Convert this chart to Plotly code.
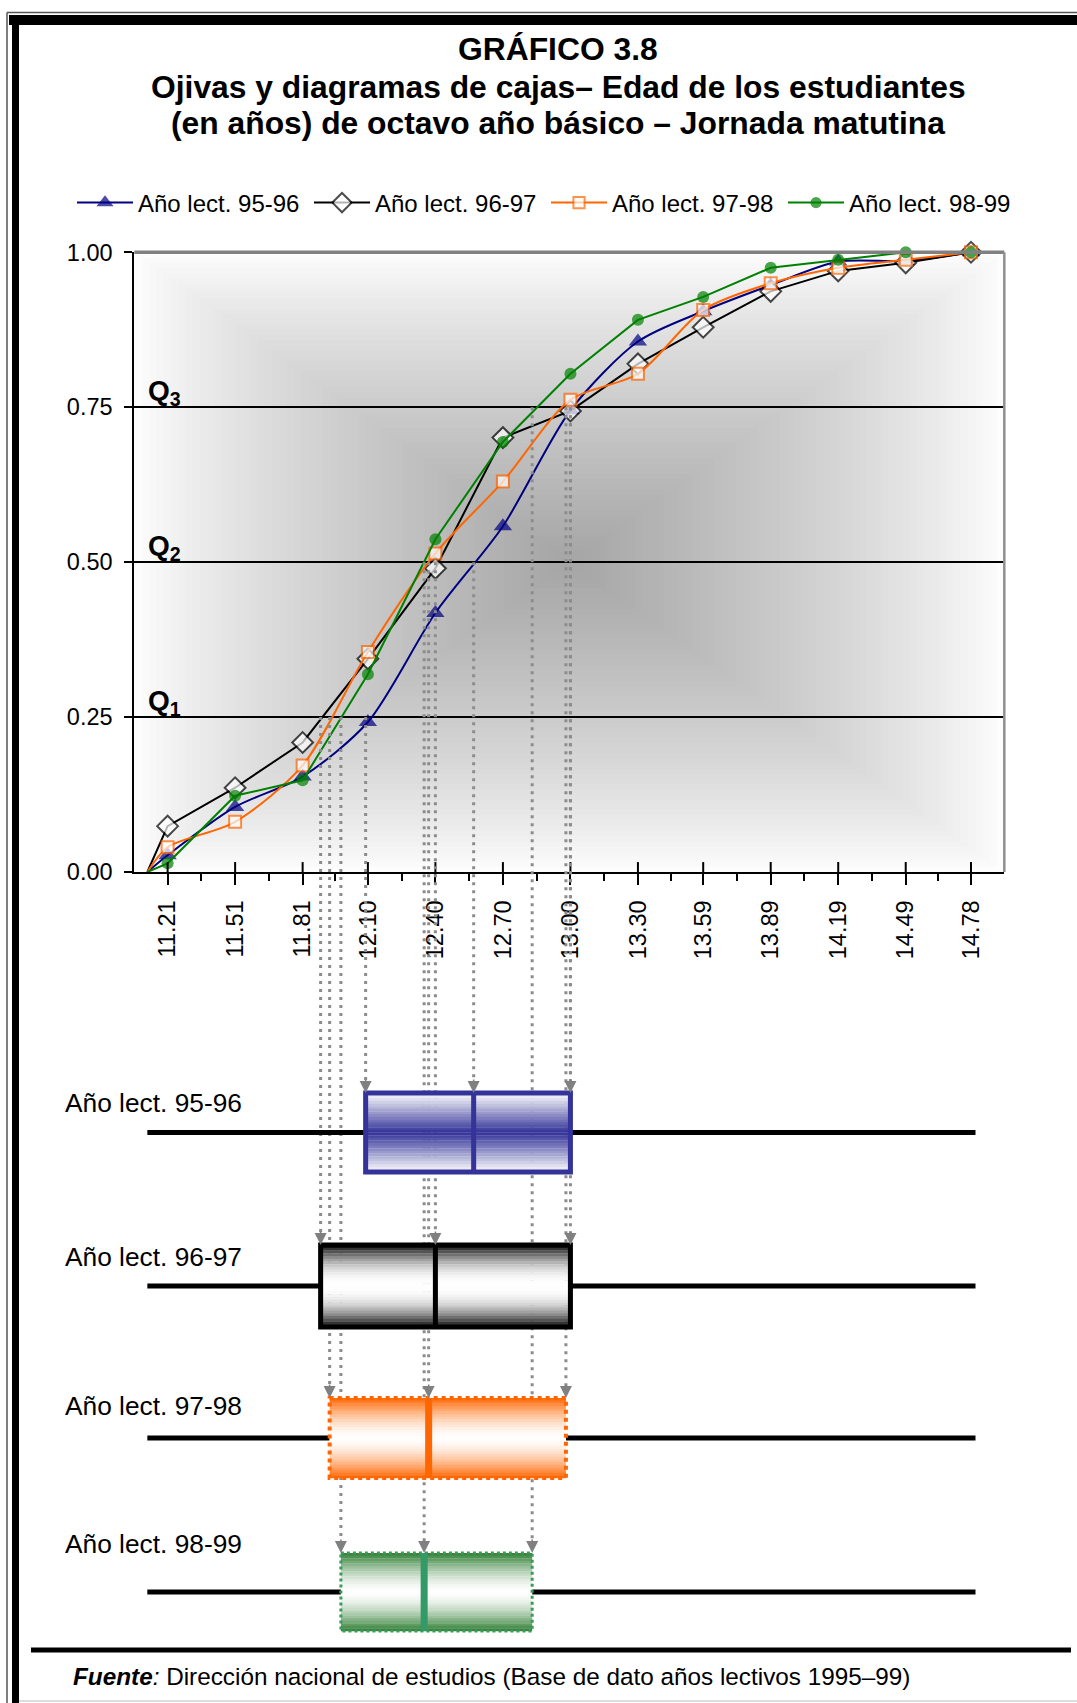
import plotly.graph_objects as go

W, H = 1077, 1703

# ---------------- data ----------------
X_TICKS = [11.21, 11.51, 11.81, 12.10, 12.40, 12.70, 13.00, 13.30, 13.59, 13.89, 14.19, 14.49, 14.78]
AGE_MIN = 11.12
AGE_MAX = 14.80

SERIES_NAMES = ["Año lect. 95-96", "Año lect. 96-97", "Año lect. 97-98", "Año lect. 98-99"]
CUM_9596 = [0.0, 0.027, 0.105, 0.154, 0.242, 0.418, 0.558, 0.745, 0.856, 0.905, 0.947, 0.985, 0.986, 1.0]
CUM_9697 = [0.0, 0.074, 0.136, 0.209, 0.344, 0.490, 0.701, 0.744, 0.820, 0.879, 0.937, 0.970, 0.983, 1.0]
CUM_9798 = [0.0, 0.040, 0.081, 0.172, 0.355, 0.514, 0.630, 0.762, 0.804, 0.907, 0.950, 0.975, 0.988, 1.0]
CUM_9899 = [0.0, 0.014, 0.123, 0.148, 0.319, 0.537, 0.694, 0.804, 0.891, 0.928, 0.975, 0.988, 1.0, 1.0]

Q1 = [12.09, 11.89, 11.93, 11.98]
MEDIAN = [12.57, 12.40, 12.37, 12.35]
Q3 = [13.00, 13.00, 12.98, 12.83]
Q_LEVELS = [0.25, 0.50, 0.75]
Y_TICKS = [0.0, 0.25, 0.50, 0.75, 1.0]

# ---------------- styles / layout constants ----------------
FONT = "Liberation Sans, Arial, sans-serif"
LINE_COLORS = ["#000080", "#000000", "#FF6600", "#008000"]
BOX_COLORS = [(51, 51, 153), (0, 0, 0), (255, 102, 0), (46, 125, 50)]
BOX_LINE = ["#333399", "#000000", "#FF6600", "#3A9A5A"]
MED_LINE = ["#333399", "#000000", "#FF6600", "#339966"]
BOX_LINE_W = [5, 5, 4, 3]
BOX_DASH = ["solid", "solid", "dot", "dot"]
MED_W = [5, 5, 7, 7]

X_RANGE = [11.062, 14.928]
X_DOM = [134.3 / W, 1004.3 / W]
Y_DOM = [1 - 872 / H, 1 - 252.3 / H]

BOX_TOP_PX = [1093, 1245, 1398, 1553]
BOX_BOT_PX = [1172, 1327, 1478, 1631]
LABEL_Y_PX = [1103, 1257, 1406, 1544]


def py(p):
    return 1 - p / H


def px(p):
    return p / W


def ypaper(v):
    return Y_DOM[0] + v * (Y_DOM[1] - Y_DOM[0])


fig = go.Figure()

x_all = [AGE_MIN] + X_TICKS
series = [CUM_9596, CUM_9697, CUM_9798, CUM_9899]
symbols = ["triangle-up", "diamond", "square", "circle"]
msizes = [16, 16, 12, 12]
mfill = ["#000080", "#FFFFFF", "#FFFFFF", "#008000"]
shapes_line = ["spline", "linear", "spline", "linear"]

for i, ys in enumerate(series):
    sizes = [0] + [msizes[i]] * len(X_TICKS)
    fig.add_trace(go.Scatter(
        x=x_all, y=ys, name=SERIES_NAMES[i], mode="lines+markers",
        line=dict(color=LINE_COLORS[i], width=2, shape=shapes_line[i], smoothing=0.8),
        marker=dict(symbol=symbols[i], size=sizes, color=mfill[i],
                    line=dict(color=LINE_COLORS[i], width=2 if i in (1, 2) else 0)),
        cliponaxis=False,
    ))

shapes = []

# background rectangular gradient (from center), drawn below grid
NG = 60
xc = (X_RANGE[0] + X_RANGE[1]) / 2
hx = (X_RANGE[1] - X_RANGE[0]) / 2
for k in range(NG):
    t = 1 - k / NG
    tm = t - 0.5 / NG
    g = int(round(255 - 90 * (1 - tm) ** 0.8))
    shapes.append(dict(type="rect", xref="x", yref="y", layer="below",
                       x0=xc - t * hx, x1=xc + t * hx, y0=0.5 - t * 0.5, y1=0.5 + t * 0.5,
                       line=dict(width=0), fillcolor=f"rgb({g},{g},{g})"))

# top and right plot border (gray)
shapes.append(dict(type="line", xref="x domain", yref="y domain", x0=0, x1=1, y0=1, y1=1,
                   line=dict(color="#808080", width=3.5)))
shapes.append(dict(type="line", xref="x domain", yref="y domain", x0=1, x1=1, y0=0, y1=1,
                   line=dict(color="#909090", width=2.5)))

# inner half of the major x ticks
for v in X_TICKS:
    shapes.append(dict(type="line", xref="x", yref="y", x0=v, x1=v, y0=0, y1=0.016,
                       line=dict(color="black", width=2)))

# dotted projection lines from ogive quartiles to boxes
annotations = []
for i in range(4):
    for q, lev in zip([Q1[i], MEDIAN[i], Q3[i]], Q_LEVELS):
        shapes.append(dict(type="line", xref="x", yref="paper", x0=q, x1=q,
                           y0=ypaper(lev), y1=py(BOX_TOP_PX[i]) + 10 / H,
                           line=dict(color="#8C8C8C", width=3, dash="3px,5px")))
        annotations.append(dict(x=q, xref="x", y=py(BOX_TOP_PX[i]), yref="paper", text="",
                                showarrow=True, ax=0, ay=-15, arrowhead=2, arrowsize=1.5,
                                arrowwidth=1.6, arrowcolor="#808080", standoff=0))

# box plots
NS = 30
for i in range(4):
    top, bot = BOX_TOP_PX[i], BOX_BOT_PX[i]
    mid = (top + bot) / 2
    r, g, b = BOX_COLORS[i]
    # whiskers
    shapes.append(dict(type="line", xref="x", yref="paper", x0=AGE_MIN, x1=Q1[i],
                       y0=py(mid), y1=py(mid), line=dict(color="black", width=5)))
    shapes.append(dict(type="line", xref="x", yref="paper", x0=Q3[i], x1=AGE_MAX,
                       y0=py(mid), y1=py(mid), line=dict(color="black", width=5)))
    # gradient strips
    for s in range(NS):
        f = (s + 0.5) / NS
        d = abs(f - 0.5) * 2  # 0 middle, 1 edge
        if i == 0:
            w = (1 - d) ** 1.0
        elif i == 1:
            w = d ** 2.2
        else:
            w = d ** 1.6
        cr = int(255 + (r - 255) * w)
        cg = int(255 + (g - 255) * w)
        cb = int(255 + (b - 255) * w)
        shapes.append(dict(type="rect", xref="x", yref="paper", x0=Q1[i], x1=Q3[i],
                           y0=py(top + (bot - top) * s / NS), y1=py(top + (bot - top) * (s + 1) / NS) - 0.3 / H,
                           line=dict(width=0), fillcolor=f"rgb({cr},{cg},{cb})"))
    # border
    shapes.append(dict(type="rect", xref="x", yref="paper", x0=Q1[i], x1=Q3[i],
                       y0=py(top), y1=py(bot),
                       line=dict(color=BOX_LINE[i], width=BOX_LINE_W[i], dash=BOX_DASH[i])))
    # median
    shapes.append(dict(type="line", xref="x", yref="paper", x0=MEDIAN[i], x1=MEDIAN[i],
                       y0=py(top), y1=py(bot), line=dict(color=MED_LINE[i], width=MED_W[i])))
    # row label
    annotations.append(dict(x=px(63), y=py(LABEL_Y_PX[i]), xref="paper", yref="paper",
                            xanchor="left", yanchor="middle", showarrow=False,
                            text=SERIES_NAMES[i], font=dict(family=FONT, size=26.3, color="black")))

# outer frame
shapes += [
    dict(type="rect", xref="paper", yref="paper", x0=px(9), x1=1.0, y0=py(25), y1=py(15),
         fillcolor="black", line=dict(width=0)),
    dict(type="rect", xref="paper", yref="paper", x0=px(12), x1=px(19), y0=0, y1=py(15),
         fillcolor="black", line=dict(width=0)),
    dict(type="line", xref="paper", yref="paper", x0=px(7), x1=1.0, y0=py(12.5), y1=py(12.5),
         line=dict(color="#555555", width=1.5)),
    dict(type="line", xref="paper", yref="paper", x0=px(7), x1=px(7), y0=0, y1=py(12.5),
         line=dict(color="#555555", width=1.5)),
    dict(type="line", xref="paper", yref="paper", x0=px(31), x1=px(1071), y0=py(1650), y1=py(1650),
         line=dict(color="black", width=5)),
    dict(type="line", xref="paper", yref="paper", x0=px(19), x1=1.0, y0=py(1701), y1=py(1701),
         line=dict(color="#DDDDDD", width=2)),
]

# quartile labels on chart
for lev, name in zip(Q_LEVELS, ["1", "2", "3"]):
    annotations.append(dict(x=px(146), y=lev, xref="paper", yref="y", xanchor="left",
                            yanchor="bottom", showarrow=False, yshift=-5,
                            text=f"<b>Q<sub>{name}</sub></b>",
                            font=dict(family=FONT, size=28, color="black")))

# titles
TITLE_LINES = ["GRÁFICO 3.8",
               "Ojivas y diagramas de cajas– Edad de los estudiantes",
               "(en años) de octavo año básico – Jornada matutina"]
for txt, yy in zip(TITLE_LINES, [49, 87, 123]):
    annotations.append(dict(x=px(558), y=py(yy), xref="paper", yref="paper", xanchor="center",
                            yanchor="middle", showarrow=False, text=f"<b>{txt}</b>",
                            font=dict(family=FONT, size=31.8, color="black")))

# footer
annotations.append(dict(x=px(71), y=py(1676), xref="paper", yref="paper", xanchor="left",
                        yanchor="middle", showarrow=False,
                        text="<b><i>Fuente</i></b><i>:</i> Dirección nacional de estudios (Base de dato años lectivos 1995–99)",
                        font=dict(family=FONT, size=24.3, color="black")))

minor_vals = [X_TICKS[0] - 0.149] + [(a + b) / 2 for a, b in zip(X_TICKS[:-1], X_TICKS[1:])] + [X_TICKS[-1] + 0.149]

fig.update_layout(
    width=W, height=H, autosize=False,
    margin=dict(l=0, r=0, t=0, b=0, pad=0),
    paper_bgcolor="white", plot_bgcolor="white",
    font=dict(family=FONT, size=22, color="black"),
    showlegend=True,
    legend=dict(orientation="h", x=px(72), y=py(203), xanchor="left", yanchor="middle",
                font=dict(family=FONT, size=24, color="black"), bgcolor="rgba(0,0,0,0)",
                entrywidth=166, entrywidthmode="pixels", itemwidth=56, tracegroupgap=0),
    xaxis=dict(domain=X_DOM, range=X_RANGE, tickmode="array", tickvals=X_TICKS,
               tickformat=".2f", tickangle=-90, ticks="outside", ticklen=11, tickwidth=2,
               tickcolor="black", showline=True, linecolor="black", linewidth=2,
               showgrid=False, zeroline=False, tickfont=dict(family=FONT, size=23.5),
               ticklabelstandoff=6, automargin=False,
               minor=dict(tickmode="array", tickvals=minor_vals, ticks="outside", ticklen=7,
                          tickwidth=2, tickcolor="black", showgrid=False),
               anchor="y", fixedrange=True),
    yaxis=dict(domain=Y_DOM, range=[0, 1], tickmode="array", tickvals=Y_TICKS,
               tickformat=".2f", ticks="outside", ticklen=8, tickwidth=2, tickcolor="black",
               showline=True, linecolor="black", linewidth=2, showgrid=True,
               gridcolor="black", gridwidth=2, zeroline=False, automargin=False,
               ticklabelstandoff=7,
               tickfont=dict(family=FONT, size=23.5), anchor="x", fixedrange=True),
    shapes=shapes,
    annotations=annotations,
)

fig.write_html("out.html", config={"displayModeBar": False})
